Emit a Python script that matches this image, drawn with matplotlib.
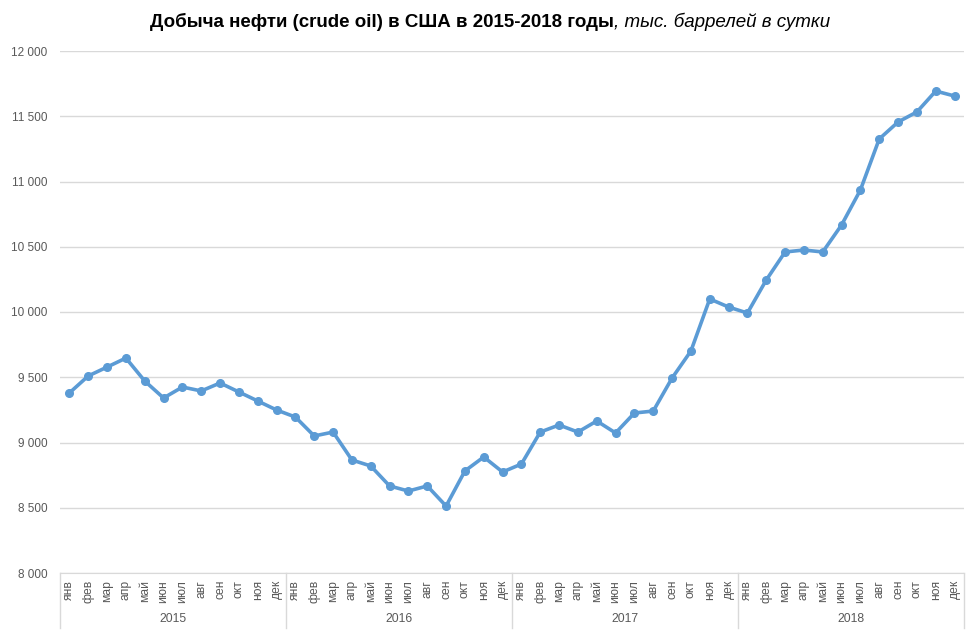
import matplotlib
matplotlib.use("Agg")
import matplotlib.pyplot as plt
from matplotlib.lines import Line2D

plt.rcParams['font.family'] = ['Liberation Sans', 'DejaVu Sans']

months = ["янв", "фев", "мар", "апр", "май", "июн",
          "июл", "авг", "сен", "окт", "ноя", "дек"]
years = ["2015", "2016", "2017", "2018"]

# тыс. баррелей в сутки, по месяцам
oil_2015 = [9380, 9510, 9578, 9647, 9471, 9341, 9425, 9395, 9456, 9387, 9318, 9249]
oil_2016 = [9195, 9050, 9080, 8866, 8820, 8667, 8628, 8667, 8513, 8782, 8889, 8774]
oil_2017 = [8835, 9080, 9134, 9080, 9165, 9073, 9226, 9241, 9494, 9701, 10100, 10038]
oil_2018 = [9992, 10245, 10460, 10475, 10460, 10667, 10935, 11326, 11456, 11533, 11693, 11655]

values = oil_2015 + oil_2016 + oil_2017 + oil_2018
labels = months * len(years)
x = list(range(len(values)))

grid_col = "#d9d9d9"
text_col = "#595959"
line_col = "#5b9bd5"

fig = plt.figure(figsize=(9.8, 6.38), dpi=100)
ax = fig.add_axes([60 / 980, 1 - 573 / 638, 904 / 980, 522 / 638])

ax.plot(x, values, color=line_col, lw=2.6, marker="o", ms=5.5,
        markerfacecolor=line_col, markeredgecolor=line_col, zorder=3)

ax.set_xlim(-0.5, len(values) - 0.5)
ax.set_ylim(8000, 12000)
yt = list(range(8000, 12001, 500))
ax.set_yticks(yt)
ax.set_yticklabels([f"{v:,}".replace(",", " ") for v in yt])
ax.yaxis.grid(True, color=grid_col, lw=1)
ax.set_axisbelow(True)

ax.set_xticks(x)
ax.set_xticklabels(labels, rotation=90)
ax.tick_params(axis="x", length=0, pad=5, labelsize=8.7, labelcolor=text_col)
ax.tick_params(axis="y", length=0, pad=9, labelsize=8.5, labelcolor=text_col)

for s in ["top", "right", "left"]:
    ax.spines[s].set_visible(False)
ax.spines["bottom"].set_color(grid_col)

# разделители лет и подписи годов
depth = -55 / 522
for i in range(len(years) + 1):
    xs = i * 12 - 0.5
    ax.add_line(Line2D([xs, xs], [0, depth], color=grid_col, lw=1,
                       transform=ax.get_xaxis_transform(), clip_on=False))
for i, yname in enumerate(years):
    ax.text(i * 12 + 5.5, -46 / 522, yname, ha="center", va="center",
            fontsize=8.7, color=text_col, transform=ax.get_xaxis_transform())

# заголовок: жирная часть + курсив
t1 = fig.text(0, 1 - 22 / 638, "Добыча нефти (crude oil) в США в 2015-2018 годы",
              fontsize=13.5, fontweight="bold", ha="left", va="center")
t2 = fig.text(0, 1 - 22 / 638, ", тыс. баррелей в сутки",
              fontsize=13.5, fontstyle="italic", ha="left", va="center")
fig.canvas.draw()
r = fig.canvas.get_renderer()
w1 = t1.get_window_extent(r).width
w2 = t2.get_window_extent(r).width
x0 = 490 - (w1 + w2) / 2
t1.set_x(x0 / 980)
t2.set_x((x0 + w1) / 980)

fig.savefig("out.png", dpi=100)
